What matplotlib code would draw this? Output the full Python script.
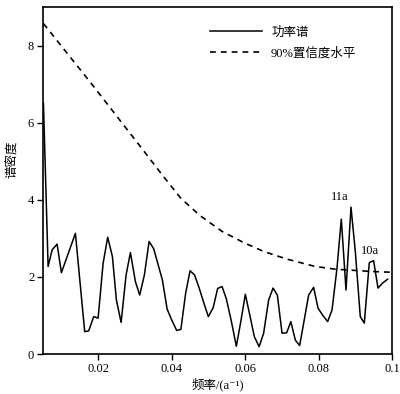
import matplotlib
matplotlib.use("Agg")
import matplotlib.pyplot as plt

plt.rcParams['font.family'] = ['Liberation Serif', 'Noto Sans CJK SC', 'DejaVu Serif']

# Power spectrum (frequency in a^-1, spectral density)
freq = [0.00512, 0.00639, 0.00748, 0.00884, 0.01001, 0.01382, 0.01635, 0.01744,
        0.01880, 0.02000, 0.02136, 0.02261, 0.02389, 0.02498, 0.02626, 0.02762,
        0.02879, 0.03015, 0.03132, 0.03260, 0.03388, 0.03513, 0.03750, 0.03878,
        0.03995, 0.04139, 0.04253, 0.04384, 0.04503, 0.04626, 0.04748, 0.04893,
        0.05001, 0.05132, 0.05254, 0.05374, 0.05491, 0.05627, 0.05763, 0.05886,
        0.06008, 0.06131, 0.06253, 0.06384, 0.06506, 0.06642, 0.06762, 0.06879,
        0.07007, 0.07132, 0.07246, 0.07369, 0.07486, 0.07614, 0.07731, 0.07867,
        0.07986, 0.08117, 0.08248, 0.08367, 0.08503, 0.08620, 0.08748, 0.08884,
        0.09001, 0.09137, 0.09246, 0.09382, 0.09499, 0.09619, 0.09744, 0.09880]
power = [6.5, 2.27, 2.70, 2.85, 2.11, 3.13, 0.58, 0.60,
         0.97, 0.93, 2.35, 3.03, 2.53, 1.40, 0.82, 2.05,
         2.63, 1.88, 1.53, 2.05, 2.92, 2.73, 1.92, 1.17,
         0.90, 0.61, 0.64, 1.58, 2.16, 2.05, 1.72, 1.28,
         0.97, 1.20, 1.70, 1.75, 1.43, 0.85, 0.20, 0.85,
         1.55, 1.00, 0.45, 0.19, 0.54, 1.40, 1.71, 1.53,
         0.54, 0.55, 0.84, 0.36, 0.22, 0.90, 1.53, 1.73,
         1.19, 1.00, 0.84, 1.14, 2.23, 3.50, 1.66, 3.81,
         2.66, 0.97, 0.80, 2.37, 2.42, 1.71, 1.84, 1.94]

# 90% confidence level
conf_freq = [0.00512, 0.01837, 0.03151, 0.03741, 0.04242, 0.04760, 0.05374,
             0.05962, 0.06506, 0.07143, 0.07913, 0.08457, 0.09456, 0.1]
conf_level = [8.57, 6.99, 5.38, 4.65, 4.05, 3.60, 3.18,
              2.89, 2.66, 2.46, 2.27, 2.20, 2.14, 2.12]

labels = ['功率谱', '90%置信度水平']
annotations = [('11a', 0.0859, 4.07), ('10a', 0.0941, 2.68)]

fig = plt.figure(figsize=(4.0, 3.94), dpi=100)
ax = fig.add_axes([0.1075, 0.1015, 0.8725, 0.8807])

ax.plot(freq, power, color='black', lw=1.1, label=labels[0])
ax.plot(conf_freq, conf_level, color='black', lw=1.2, linestyle=(0, (3.5, 3)),
        label=labels[1])

for txt, x, y in annotations:
    ax.text(x, y, txt, ha='center', va='center', fontsize=9)

ax.set_xlim(0.005, 0.1)
ax.set_ylim(0, 9)
ax.set_xticks([0.02, 0.04, 0.06, 0.08, 0.1])
ax.set_xticklabels(['0.02', '0.04', '0.06', '0.08', '0.1'])
ax.set_yticks([0, 2, 4, 6, 8])
ax.tick_params(direction='out', length=4.3, width=1, labelsize=9, pad=2,
               top=False, right=False)
for s in ax.spines.values():
    s.set_linewidth(1.2)

ax.set_xlabel('频率/(a⁻¹)', fontsize=9, labelpad=2)
ax.set_ylabel('谱密度', fontsize=9)
ax.yaxis.set_label_coords(-0.072, 0.56)

ax.legend(loc='upper left', bbox_to_anchor=(0.478, 0.944), frameon=False,
          fontsize=9, handlelength=4.2, handletextpad=0.7, labelspacing=0.66,
          borderpad=0, borderaxespad=0)

fig.savefig('out.png', dpi=100)
